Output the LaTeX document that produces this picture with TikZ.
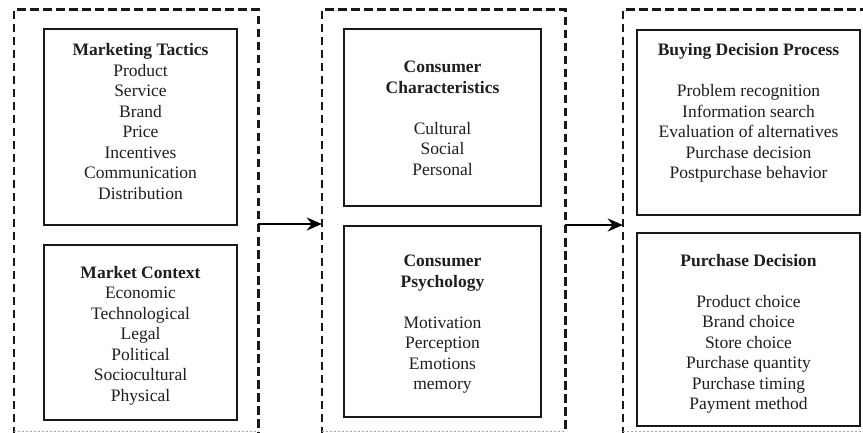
\documentclass[tikz,border=0pt]{standalone}
\usepackage{fontspec}
\setmainfont{Liberation Serif}
\usetikzlibrary{arrows.meta}
\begin{document}
\begin{tikzpicture}[x=1pt,y=-1pt,
  box/.style={draw=black!90, line width=2pt, rectangle, inner sep=0pt},
  cont/.style={draw=none, rectangle, inner sep=0pt},
  dashline/.style={line width=2.6pt, black!90, dash pattern=on 8.5pt off 4.5pt},
  faint/.style={line width=0.8pt, black!35, dash pattern=on 2pt off 2pt},
  txt/.style={anchor=north, align=center, inner sep=0pt, text=black!88,
    font=\fontsize{17.5}{20.5}\selectfont},
  arr/.style={line width=2.2pt, -{Stealth[length=15pt,width=13pt]}}]
\useasboundingbox (0,0) rectangle (863,433);
\clip (0,0) rectangle (863,433);
\fill[white] (0,0) rectangle (863,433);

% containers
\node[cont, minimum width=244pt, minimum height=421pt] (c1) at (136,220.5) {};
\node[cont, minimum width=243pt, minimum height=421pt] (c2) at (443.5,220.5) {};
\node[cont, minimum width=277pt, minimum height=421pt] (c3) at (761.5,220.5) {};
\foreach \c in {c1,c2,c3}{
  \draw[dashline] ([yshift=-4pt]\c.south west) -- (\c.north west) -- (\c.north east) -- ([yshift=-4pt]\c.south east);
  \draw[faint] (\c.south west) -- (\c.south east);
}

% boxes
\node[box, minimum width=193pt, minimum height=196pt] (b1) at (140.5,127) {};
\node[box, minimum width=193pt, minimum height=175pt] (b2) at (140.5,332.5) {};
\node[box, minimum width=197pt, minimum height=177pt] (b3) at (442.5,117.5) {};
\node[box, minimum width=197pt, minimum height=191pt] (b4) at (442.5,321.5) {};
\node[box, minimum width=223pt, minimum height=185pt] (b5) at (748.5,122.5) {};
\node[box, minimum width=223pt, minimum height=193pt] (b6) at (748.5,329.5) {};

% texts
\node[txt] (t1) at (b1.center |- 0,43.5) {\textbf{Marketing Tactics}\\Product\\Service\\Brand\\Price\\Incentives\\Communication\\Distribution};
\node[txt] (t2) at (b2.center |- 0,266) {\textbf{Market Context}\\Economic\\Technological\\Legal\\Political\\Sociocultural\\Physical};
\node[txt] (t3) at (b3.center |- 0,61) {\textbf{Consumer}\\\textbf{Characteristics}\\[20.5pt]Cultural\\Social\\Personal};
\node[txt] (t4) at (b4.center |- 0,255) {\textbf{Consumer}\\\textbf{Psychology}\\[20.5pt]Motivation\\Perception\\Emotions\\memory};
\node[txt] (t5) at (b5.center |- 0,43.5) {\textbf{Buying Decision Process}\\[20.5pt]Problem recognition\\Information search\\Evaluation of alternatives\\Purchase decision\\Postpurchase behavior};
\node[txt] (t6) at (b6.center |- 0,254) {\textbf{Purchase Decision}\\[20.5pt]Product choice\\Brand choice\\Store choice\\Purchase quantity\\Purchase timing\\Payment method};

% arrows
\draw[arr] (c1.east |- 0,224) -- (c2.west |- 0,224);
\draw[arr] (c2.east |- 0,225) -- (c3.west |- 0,225);
\end{tikzpicture}
\end{document}
